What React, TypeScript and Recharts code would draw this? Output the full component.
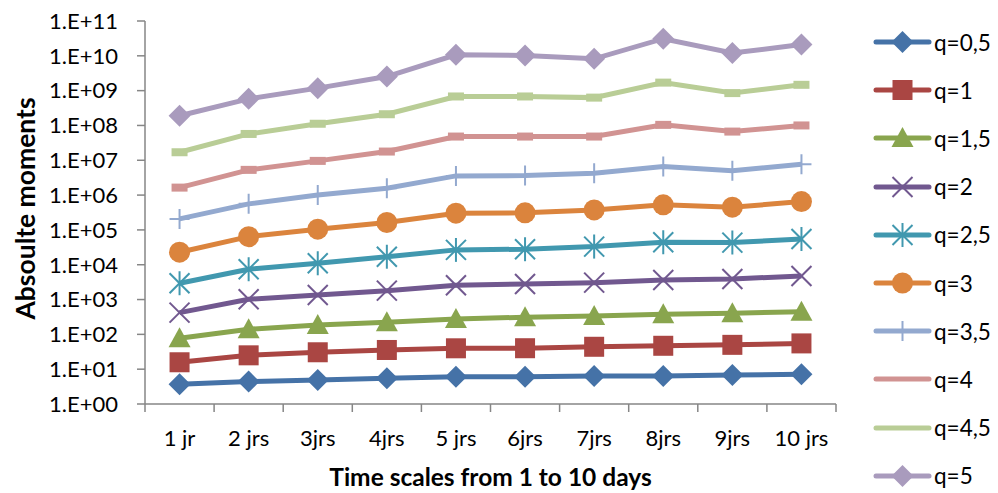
import React from "react";
import { LineChart, Line, XAxis, YAxis, Legend, Label } from "recharts";

const categories = ["1 jr", "2 jrs", "3jrs", "4jrs", "5 jrs", "6jrs", "7jrs", "8jrs", "9jrs", "10 jrs"];

const q05 = [3.7, 4.4, 4.9, 5.5, 6.1, 6.1, 6.4, 6.4, 6.8, 7.1];
const q1 = [15.8, 25, 30.6, 35.6, 39.8, 40, 44, 47, 50, 55];
const q15 = [77, 140, 186, 223, 278, 310, 338, 378, 403, 448];
const q2 = [421, 1020, 1350, 1800, 2570, 2800, 3060, 3660, 3900, 4770];
const q25 = [2940, 7420, 11000, 17000, 26700, 27900, 33200, 44300, 43200, 55000];
const q3 = [22900, 64000, 105000, 163000, 302000, 310000, 376000, 524000, 449000, 650000];
const q35 = [2.07e5, 5.6e5, 1.01e6, 1.58e6, 3.56e6, 3.63e6, 4.27e6, 6.6e6, 5.0e6, 7.7e6];
const q4 = [1.64e6, 5.3e6, 9.6e6, 1.78e7, 4.8e7, 4.8e7, 4.8e7, 1.04e8, 6.67e7, 1.0e8];
const q45 = [1.7e7, 5.7e7, 1.12e8, 2.1e8, 6.8e8, 6.8e8, 6.3e8, 1.7e9, 8.5e8, 1.47e9];
const q5 = [1.9e8, 5.8e8, 1.18e9, 2.54e9, 1.07e10, 1.02e10, 8.2e9, 3.1e10, 1.2e10, 2.1e10];

const yTicks = [1, 1e1, 1e2, 1e3, 1e4, 1e5, 1e6, 1e7, 1e8, 1e9, 1e10, 1e11];

type MarkerKind = "diamond" | "square" | "triangle" | "x" | "star" | "circle" | "plus" | "dash" | "none";

const series: { key: string; name: string; values: number[]; color: string; marker: MarkerKind; legendMarker: MarkerKind }[] = [
  { key: "q05", name: "q=0,5", values: q05, color: "#4572A7", marker: "diamond", legendMarker: "diamond" },
  { key: "q1", name: "q=1", values: q1, color: "#AA4643", marker: "square", legendMarker: "square" },
  { key: "q15", name: "q=1,5", values: q15, color: "#89A54E", marker: "triangle", legendMarker: "triangle" },
  { key: "q2", name: "q=2", values: q2, color: "#71588F", marker: "x", legendMarker: "x" },
  { key: "q25", name: "q=2,5", values: q25, color: "#4198AF", marker: "star", legendMarker: "star" },
  { key: "q3", name: "q=3", values: q3, color: "#DB843D", marker: "circle", legendMarker: "circle" },
  { key: "q35", name: "q=3,5", values: q35, color: "#93A9CF", marker: "plus", legendMarker: "plus" },
  { key: "q4", name: "q=4", values: q4, color: "#D19392", marker: "dash", legendMarker: "none" },
  { key: "q45", name: "q=4,5", values: q45, color: "#B9CD96", marker: "dash", legendMarker: "none" },
  { key: "q5", name: "q=5", values: q5, color: "#A99BBD", marker: "diamond", legendMarker: "diamond" },
];

const data = categories.map((c, i) => {
  const row: Record<string, string | number> = { cat: c };
  series.forEach((s) => (row[s.key] = s.values[i]));
  return row;
});

const W = 990;
const H = 485;
const LEG_W = 132;
// a vertical legend on the right adds its width to the right offset
const MARGIN = { top: 13, right: 162 - LEG_W, bottom: 4, left: 0 };
const Y_W = 137;
const X_H = 85;
const PLOT_W = W - MARGIN.left - (MARGIN.right + LEG_W) - Y_W;
const BAND = PLOT_W / categories.length;
const FONT = "Lato, 'Noto Sans', sans-serif";
const AXIS = "#868686";
const TICK_FS = 22;
const TITLE_FS = 24.5;

function marker(kind: MarkerKind, cx: number, cy: number, color: string) {
  switch (kind) {
    case "diamond":
      return <polygon points={`${cx},${cy - 11} ${cx + 11},${cy} ${cx},${cy + 11} ${cx - 11},${cy}`} fill={color} />;
    case "square":
      return <rect x={cx - 10} y={cy - 10} width={20} height={20} fill={color} />;
    case "triangle":
      return <polygon points={`${cx},${cy - 11} ${cx + 11},${cy + 9} ${cx - 11},${cy + 9}`} fill={color} />;
    case "x":
      return (
        <g stroke={color} strokeWidth={2}>
          <line x1={cx - 10} y1={cy - 10} x2={cx + 10} y2={cy + 10} />
          <line x1={cx - 10} y1={cy + 10} x2={cx + 10} y2={cy - 10} />
        </g>
      );
    case "star":
      return (
        <g stroke={color} strokeWidth={2}>
          <line x1={cx - 10} y1={cy - 10} x2={cx + 10} y2={cy + 10} />
          <line x1={cx - 10} y1={cy + 10} x2={cx + 10} y2={cy - 10} />
          <line x1={cx} y1={cy - 12} x2={cx} y2={cy + 12} />
        </g>
      );
    case "circle":
      return <circle cx={cx} cy={cy} r={10.5} fill={color} />;
    case "plus":
      return (
        <g stroke={color} strokeWidth={2}>
          <line x1={cx} y1={cy - 10} x2={cx} y2={cy + 10} />
          <line x1={cx - 10} y1={cy} x2={cx + 10} y2={cy} />
        </g>
      );
    case "dash":
      return <rect x={cx - 8} y={cy - 4} width={16} height={8} fill={color} />;
    default:
      return null;
  }
}

const yFmt = (v: number) => "1.E+" + String(Math.round(Math.log10(v))).padStart(2, "0");

function XTick(props: any) {
  const { x, y, payload, index } = props;
  const last = index === categories.length - 1;
  return (
    <g>
      <line x1={x - BAND / 2} y1={y} x2={x - BAND / 2} y2={y + 8} stroke={AXIS} strokeWidth={1.5} />
      {last && <line x1={x + BAND / 2} y1={y} x2={x + BAND / 2} y2={y + 8} stroke={AXIS} strokeWidth={1.5} />}
      <text x={x} y={y + 42} textAnchor="middle" fontSize={TICK_FS} fill="#000" fontFamily={FONT}>
        {payload.value}
      </text>
    </g>
  );
}

function YTitle(p: any) {
  const vb = p.viewBox || { y: 13, height: 383 };
  const cx = 17;
  const cy = vb.y + vb.height / 2 - 4;
  return (
    <text x={cx} y={cy} transform={`rotate(-90 ${cx} ${cy})`} textAnchor="middle" dominantBaseline="central" fontSize={26.5} fontWeight="bold" fontFamily={FONT} fill="#000">
      Absoulte moments
    </text>
  );
}

function XTitle(p: any) {
  const vb = p.viewBox;
  return (
    <text x={vb.x + vb.width / 2} y={vb.y + 82} textAnchor="middle" fontSize={TITLE_FS} fontWeight="bold" fontFamily={FONT} fill="#000">
      Time scales from 1 to 10 days
    </text>
  );
}

function LegendBox(props: any) {
  const items = props.payload || [];
  return (
    <div style={{ fontFamily: FONT, width: LEG_W }}>
      {items.map((it: any) => {
        const s = series.find((q) => q.key === it.dataKey) || series[0];
        return (
          <div key={s.key} style={{ height: 48.2, display: "flex", alignItems: "center" }}>
            <svg width={66} height={26} style={{ display: "block" }}>
              <line x1={10} y1={13} x2={63} y2={13} stroke={s.color} strokeWidth={5} strokeLinecap="round" />
              {marker(s.legendMarker, 36.5, 13, s.color)}
            </svg>
            <span style={{ fontSize: 22.5, color: "#000", marginLeft: 2 }}>{s.name}</span>
          </div>
        );
      })}
    </div>
  );
}

export default function App() {
  return (
    <div style={{ width: W, height: H, fontFamily: FONT }}>
      <LineChart width={W} height={H} data={data} margin={MARGIN}>
        <XAxis
          dataKey="cat"
          scale="band"
          height={X_H}
          tickSize={0}
          tickMargin={0}
          tick={<XTick />}
          interval={0}
          stroke={AXIS}
          strokeWidth={1.5}
        >
          <Label content={<XTitle />} />
        </XAxis>
        <YAxis
          scale="log"
          domain={[1, 1e11]}
          ticks={yTicks}
          allowDataOverflow
          width={Y_W}
          tickSize={8}
          tickMargin={19}
          tickFormatter={yFmt}
          interval={0}
          stroke={AXIS}
          strokeWidth={1.5}
          tick={{ fill: "#000", fontSize: TICK_FS, fontFamily: FONT }}
        >
          <Label content={<YTitle />} />
        </YAxis>
        <Legend
          layout="vertical"
          align="right"
          verticalAlign="middle"
          wrapperStyle={{ left: 858, top: 10, width: LEG_W }}
          content={<LegendBox />}
        />
        {series.map((s) => (
          <Line
            key={s.key}
            dataKey={s.key}
            name={s.name}
            stroke={s.color}
            strokeWidth={5}
            isAnimationActive={false}
            dot={(p: any) => <g key={`${s.key}-${p.index}`}>{marker(s.marker, p.cx, p.cy, s.color)}</g>}
          />
        ))}
      </LineChart>
    </div>
  );
}
